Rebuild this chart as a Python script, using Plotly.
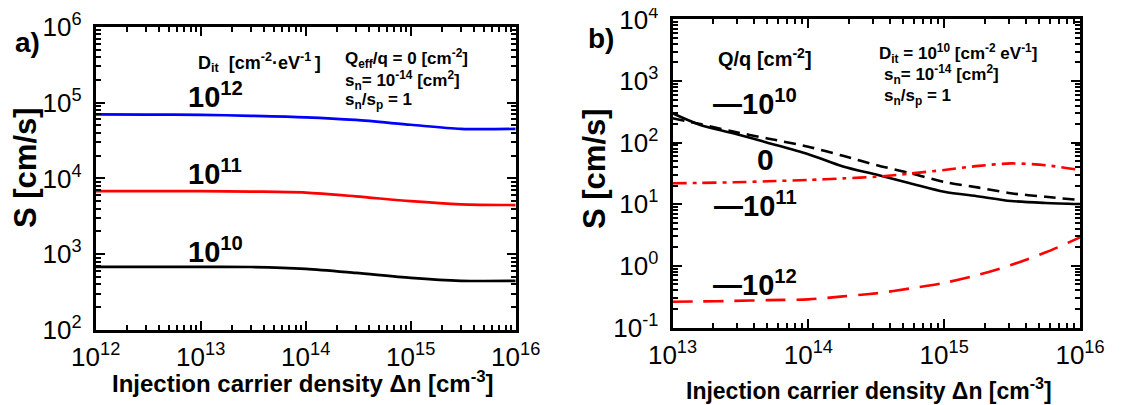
import plotly.graph_objects as go

W, H = 1127, 405
OFF = 8  # default page-body margin in the written html

# ---------------- data ----------------
# panel a) : S vs injection density for three Dit values
dn_a = [1e12, 3e12, 1e13, 3e13, 1e14, 3e14, 1e15, 3e15, 1e16]
S_dit_1e12 = [7.0e4, 6.95e4, 6.9e4, 6.7e4, 6.4e4, 5.9e4, 5.1e4, 4.5e4, 4.5e4]
S_dit_1e11 = [6.8e3, 6.8e3, 6.8e3, 6.7e3, 6.5e3, 5.8e3, 5.0e3, 4.55e3, 4.45e3]
S_dit_1e10 = [681, 681, 681, 678, 640, 566, 487, 446, 445]

# panel b) : S vs injection density for four Q/q values
dn_b = [1e13, 1.6e13, 2.8e13, 5e13, 1e14, 1.8e14, 3.2e14, 5.6e14, 1e15, 1.8e15, 3.1e15, 5.6e15, 1e16]
S_q_solid = [300, 194, 142, 100, 65, 41, 30, 22, 16, 13.4, 11.3, 10.5, 10.1]
S_q_dash = [249, 200, 151, 117, 86, 61, 43, 32, 23, 18.6, 15.1, 13.2, 11.7]
S_q_dashdot = [21.9, 22.2, 22.7, 23.6, 24.8, 26.3, 28, 31.5, 36, 42, 46, 43, 36]
S_q_longdash = [0.262, 0.265, 0.27, 0.278, 0.286, 0.32, 0.36, 0.43, 0.53, 0.72, 1.03, 1.66, 2.9]

xt_a = [1e12, 1e13, 1e14, 1e15, 1e16]
xt_a_text = ["10<sup>12</sup>", "10<sup>13</sup>", "10<sup>14</sup>", "10<sup>15</sup>", "10<sup>16</sup>"]
yt_a = [1e2, 1e3, 1e4, 1e5, 1e6]
yt_a_text = ["10<sup>2</sup>", "10<sup>3</sup>", "10<sup>4</sup>", "10<sup>5</sup>", "10<sup>6</sup>"]
xt_b = [1e13, 1e14, 1e15, 1e16]
xt_b_text = ["10<sup>13</sup>", "10<sup>14</sup>", "10<sup>15</sup>", "10<sup>16</sup>"]
yt_b = [1e-1, 1e0, 1e1, 1e2, 1e3, 1e4]
yt_b_text = ["10<sup>-1</sup>", "10<sup>0</sup>", "10<sup>1</sup>", "10<sup>2</sup>", "10<sup>3</sup>", "10<sup>4</sup>"]


def minor_vals(lo, hi):
    out = []
    for e in range(lo, hi):
        for m in range(2, 10):
            out.append(m * 10.0 ** e)
    return out


def fx(px):
    return (px - OFF) / W


def fy(py):
    return 1 - (py - OFF) / H


FONT = "Liberation Sans, Arial, sans-serif"

fig = go.Figure()

# panel a traces
for ys, col in [(S_dit_1e12, "#0000ff"), (S_dit_1e11, "#ff0000"), (S_dit_1e10, "#000000")]:
    fig.add_trace(go.Scatter(x=dn_a, y=ys, mode="lines",
                             line=dict(color=col, width=2.7, shape="spline", smoothing=0.8),
                             xaxis="x", yaxis="y", showlegend=False))

# panel b traces
for ys, col, dash in [(S_q_solid, "#000000", "solid"),
                      (S_q_dash, "#000000", "12px,7px"),
                      (S_q_dashdot, "#ff0000", "14px,6px,4px,6px"),
                      (S_q_longdash, "#ff0000", "20px,11px")]:
    fig.add_trace(go.Scatter(x=dn_b, y=ys, mode="lines",
                             line=dict(color=col, width=2.6, shape="spline", smoothing=0.8, dash=dash),
                             xaxis="x2", yaxis="y2", showlegend=False))

axis_common = dict(
    type="log", showline=True, linewidth=3, linecolor="black", mirror="allticks",
    ticks="inside", ticklen=9, tickwidth=2, tickcolor="black", showgrid=False, zeroline=False,
    tickmode="array", tickfont=dict(family=FONT, size=26, color="black"), automargin=False,
    ticklabeloverflow="allow",
)
minor_common = dict(ticks="inside", ticklen=5, tickwidth=1.5, tickcolor="black", showgrid=False)

fig.update_layout(
    width=W, height=H, margin=dict(l=0, r=0, t=0, b=0),
    paper_bgcolor="white", plot_bgcolor="white",
    xaxis=dict(axis_common, domain=[fx(95.7), fx(515.7)], range=[12, 16], anchor="y",
               tickvals=xt_a, ticktext=xt_a_text, ticklabelstandoff=2,
               minor=dict(minor_common, tickvals=minor_vals(12, 16))),
    yaxis=dict(axis_common, domain=[fy(330), fy(26.8)], range=[2, 6], anchor="x",
               tickvals=yt_a, ticktext=yt_a_text, ticklabelstandoff=6,
               minor=dict(minor_common, tickvals=minor_vals(2, 6))),
    xaxis2=dict(axis_common, domain=[fx(672.5), fx(1080)], range=[13, 16], anchor="y2",
                tickvals=xt_b, ticktext=xt_b_text, ticklabelstandoff=2,
                minor=dict(minor_common, tickvals=minor_vals(13, 16))),
    yaxis2=dict(axis_common, domain=[fy(327.5), fy(19.4)], range=[-1, 4], anchor="x2",
                tickvals=yt_b, ticktext=yt_b_text, ticklabelstandoff=6,
                minor=dict(minor_common, tickvals=minor_vals(-1, 4))),
)


def ann(text, px, py, size, bold=True, xanchor="center", yanchor="middle", angle=0):
    fig.add_annotation(
        text=("<b>%s</b>" % text) if bold else text,
        x=fx(px), y=fy(py), xref="paper", yref="paper",
        xanchor=xanchor, yanchor=yanchor, showarrow=False, textangle=angle,
        font=dict(family=FONT, size=size, color="black"),
    )


# panel a annotations
ann("a)", 27, 43, 28)
ann("S [cm/s]", 25, 168, 31, angle=-90)
ann("Injection carrier density Δn [cm<sup>-3</sup>]", 303, 382, 24)
ann("D<sub>it</sub>  [cm<sup>-2</sup>·eV<sup>-1 </sup>]", 196, 63, 18, xanchor="left")
ann("Q<sub>eff</sub>/q = 0 [cm<sup>-2</sup>]", 343, 58, 17, xanchor="left")
ann("s<sub>n</sub>= 10<sup>-14</sup> [cm<sup>2</sup>]", 343, 80, 17, xanchor="left")
ann("s<sub>n</sub>/s<sub>p</sub> = 1", 343, 101, 17, xanchor="left")
ann("10<sup>12</sup>", 215, 95, 29)
ann("10<sup>11</sup>", 215, 172, 29)
ann("10<sup>10</sup>", 215, 250, 29)

# panel b annotations
ann("b)", 601, 39, 28)
ann("S [cm/s]", 595, 169, 31, angle=-90)
ann("Injection carrier density Δn [cm<sup>-3</sup>]", 869, 389, 23)
ann("Q/q [cm<sup>-2</sup>]", 716, 57, 20, xanchor="left")
ann("D<sub>it</sub> = 10<sup>10</sup> [cm<sup>-2</sup> eV<sup>-1</sup>]", 877, 53, 17, xanchor="left")
ann("s<sub>n</sub>= 10<sup>-14</sup> [cm<sup>2</sup>]", 882, 75, 17, xanchor="left")
ann("s<sub>n</sub>/s<sub>p</sub> = 1", 882, 97, 17, xanchor="left")
ann("—10<sup>10</sup>", 755, 102, 29)
ann("0", 765, 159, 30)
ann("—10<sup>11</sup>", 755, 204, 29)
ann("—10<sup>12</sup>", 755, 283, 29)

fig.write_html("out.html")
